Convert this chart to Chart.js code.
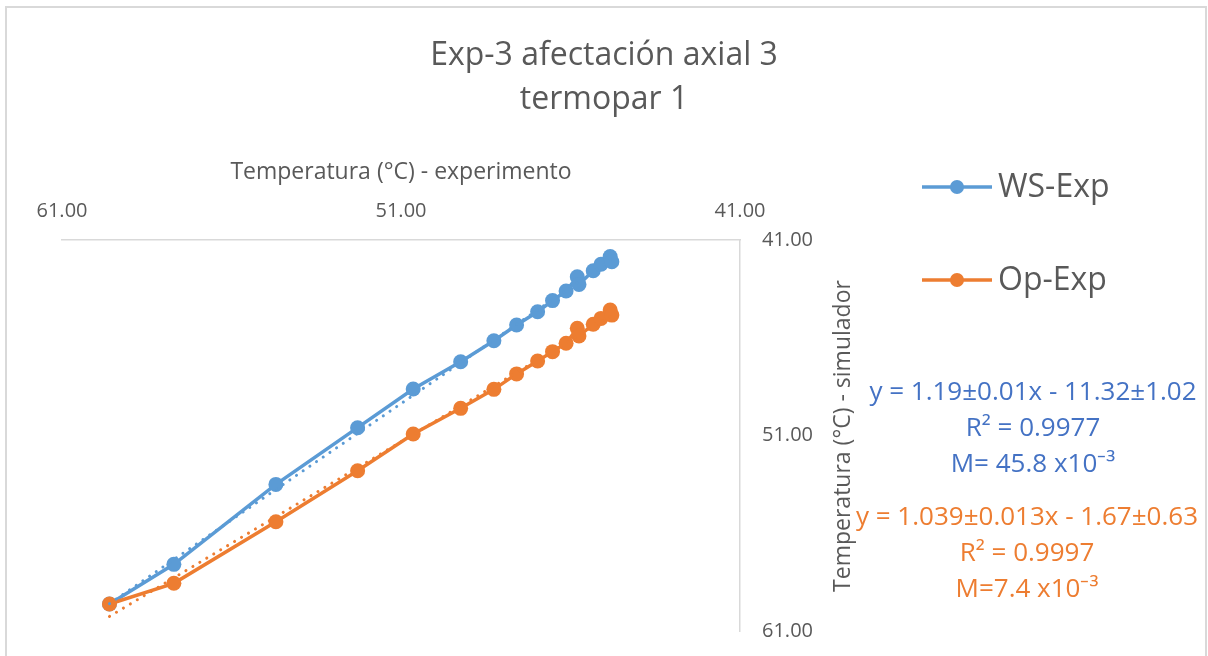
<!DOCTYPE html>
<html>
<head>
<meta charset="utf-8">
<script src="https://cdn.jsdelivr.net/npm/chart.js@4.4.1/dist/chart.umd.min.js"></script>
<style>
  html, body { margin: 0; padding: 0; background: #fff; }
  #wrap { position: relative; width: 1208px; height: 656px; }
</style>
</head>
<body>
<div id="wrap"><canvas id="chart" width="1208" height="656"></canvas></div>
<script>
const titleLines = ['Exp-3 afectación axial 3', 'termopar 1'];
const xTitle = 'Temperatura (°C) - experimento';
const yTitle = 'Temperatura (°C) - simulador';
const seriesNames = ['WS-Exp', 'Op-Exp'];

// experiment temperature (x) and simulator temperatures (y)
const expTemp = [59.60, 57.70, 54.69, 52.28, 50.64, 49.24, 48.26, 47.59, 46.97, 46.53, 46.13, 45.80, 45.75, 45.33, 45.10, 44.83, 44.78];
const wsSim = [59.62, 57.59, 53.50, 50.60, 48.62, 47.23, 46.15, 45.35, 44.67, 44.10, 43.61, 42.88, 43.27, 42.57, 42.24, 41.85, 42.11];
const opSim = [59.62, 58.56, 55.41, 52.80, 50.92, 49.61, 48.64, 47.85, 47.19, 46.71, 46.28, 45.52, 45.91, 45.31, 45.01, 44.58, 44.84];

// trendline coefficients as printed on the chart
const wsFit = { slope: 1.19, intercept: -11.32 };
const opFit = { slope: 1.039, intercept: -1.67 };
const wsLabel = ['y = 1.19±0.01x - 11.32±1.02', 'R² = 0.9977', 'M= 45.8 x10⁻³'];
const opLabel = ['y = 1.039±0.013x - 1.67±0.63', 'R² = 0.9997', 'M=7.4 x10⁻³'];

const axisMin = 41;
const axisMax = 61;
const axisStep = 10;

const BLUE = '#5B9BD5';
const ORANGE = '#ED7D31';
const TEXT = '#595959';
const FONT = "'Open Sans', sans-serif";

const pts = ys => expTemp.map((x, i) => ({ x, y: ys[i] }));
const xLo = Math.min(...expTemp);
const xHi = Math.max(...expTemp);
const trend = f => [xHi, xLo].map(x => ({ x, y: f.slope * x + f.intercept }));

const overlayPlugin = {
  id: 'overlay',
  beforeDraw(chart) {
    const ctx = chart.ctx;
    ctx.save();
    ctx.strokeStyle = '#D9D9D9';
    ctx.lineWidth = 2;
    ctx.strokeRect(6, 7, 1200, 660);
    ctx.restore();
  },
  afterDraw(chart) {
    const ctx = chart.ctx;
    ctx.save();

    // y axis title, reads bottom to top
    ctx.translate(843, 436);
    ctx.rotate(-Math.PI / 2);
    ctx.font = `23px ${FONT}`;
    ctx.fillStyle = TEXT;
    ctx.textAlign = 'center';
    ctx.textBaseline = 'middle';
    ctx.fillText(yTitle, 0, 0);
    ctx.setTransform(1, 0, 0, 1, 0, 0);

    // legend
    const legend = [[seriesNames[0], BLUE, 187], [seriesNames[1], ORANGE, 280]];
    legend.forEach(([name, color, y]) => {
      ctx.strokeStyle = color;
      ctx.lineWidth = 3.5;
      ctx.beginPath();
      ctx.moveTo(922, y);
      ctx.lineTo(992, y);
      ctx.stroke();
      ctx.fillStyle = color;
      ctx.beginPath();
      ctx.arc(957, y, 7, 0, Math.PI * 2);
      ctx.fill();
      ctx.fillStyle = TEXT;
      ctx.font = `32px ${FONT}`;
      ctx.textAlign = 'left';
      ctx.textBaseline = 'middle';
      ctx.fillText(name, 998, y + 1);
    });

    // trendline labels
    ctx.font = `26px ${FONT}`;
    ctx.textAlign = 'center';
    ctx.textBaseline = 'middle';
    ctx.fillStyle = '#4472C4';
    wsLabel.forEach((t, i) => ctx.fillText(t, 1033, 393 + i * 36));
    ctx.fillStyle = ORANGE;
    opLabel.forEach((t, i) => ctx.fillText(t, 1027, 518 + i * 36));

    ctx.restore();
  },
};

const ctx = document.getElementById('chart').getContext('2d');
new Chart(ctx, {
  type: 'line',
  data: {
    datasets: [
      {
        label: seriesNames[0],
        data: pts(wsSim),
        borderColor: BLUE,
        backgroundColor: BLUE,
        borderWidth: 3.5,
        pointRadius: 7.5,
        pointBorderWidth: 0,
        tension: 0,
        order: 2,
      },
      {
        label: seriesNames[1],
        data: pts(opSim),
        borderColor: ORANGE,
        backgroundColor: ORANGE,
        borderWidth: 3.5,
        pointRadius: 7.5,
        pointBorderWidth: 0,
        tension: 0,
        order: 1,
      },
      {
        label: 'ws trend',
        data: trend(wsFit),
        borderColor: BLUE,
        borderWidth: 3,
        borderDash: [0.1, 8],
        borderCapStyle: 'round',
        pointRadius: 0,
        order: 0,
      },
      {
        label: 'op trend',
        data: trend(opFit),
        borderColor: ORANGE,
        borderWidth: 3,
        borderDash: [0.1, 8],
        borderCapStyle: 'round',
        pointRadius: 0,
        order: 0,
      },
    ],
  },
  options: {
    responsive: false,
    animation: false,
    layout: { padding: { left: 62, right: 62, top: 0, bottom: 25 } },
    scales: {
      x: {
        type: 'linear',
        position: 'top',
        reverse: true,
        min: axisMin,
        max: axisMax,
        afterFit: s => { s.height = 117.4; },
        ticks: {
          stepSize: axisStep,
          padding: 17,
          color: TEXT,
          font: { family: FONT, size: 20 },
          callback: v => v.toFixed(2),
        },
        grid: { display: false, drawTicks: false },
        border: { display: true, color: '#D9D9D9', width: 1.5 },
        title: {
          display: true,
          text: xTitle,
          color: TEXT,
          font: { family: FONT, size: 23 },
          padding: { top: 36, bottom: 0 },
        },
      },
      y: {
        type: 'linear',
        position: 'right',
        reverse: true,
        min: axisMin,
        max: axisMax,
        afterFit: s => {
          s.width = 406;
          // tick padding would otherwise push the plot bottom up
          s.paddingTop = 0;
          s.paddingBottom = 0;
        },
        ticks: {
          stepSize: axisStep,
          padding: 22,
          color: TEXT,
          font: { family: FONT, size: 20 },
          callback: v => v.toFixed(2),
        },
        grid: { display: false, drawTicks: false },
        border: { display: true, color: '#D9D9D9', width: 1.5 },
      },
    },
    plugins: {
      legend: { display: false },
      tooltip: { enabled: false },
      title: {
        display: true,
        text: titleLines,
        color: TEXT,
        font: { family: FONT, size: 32, weight: 'normal', lineHeight: 1.4 },
        padding: { top: 33, bottom: 0 },
      },
    },
  },
  plugins: [overlayPlugin],
});
</script>
</body>
</html>
